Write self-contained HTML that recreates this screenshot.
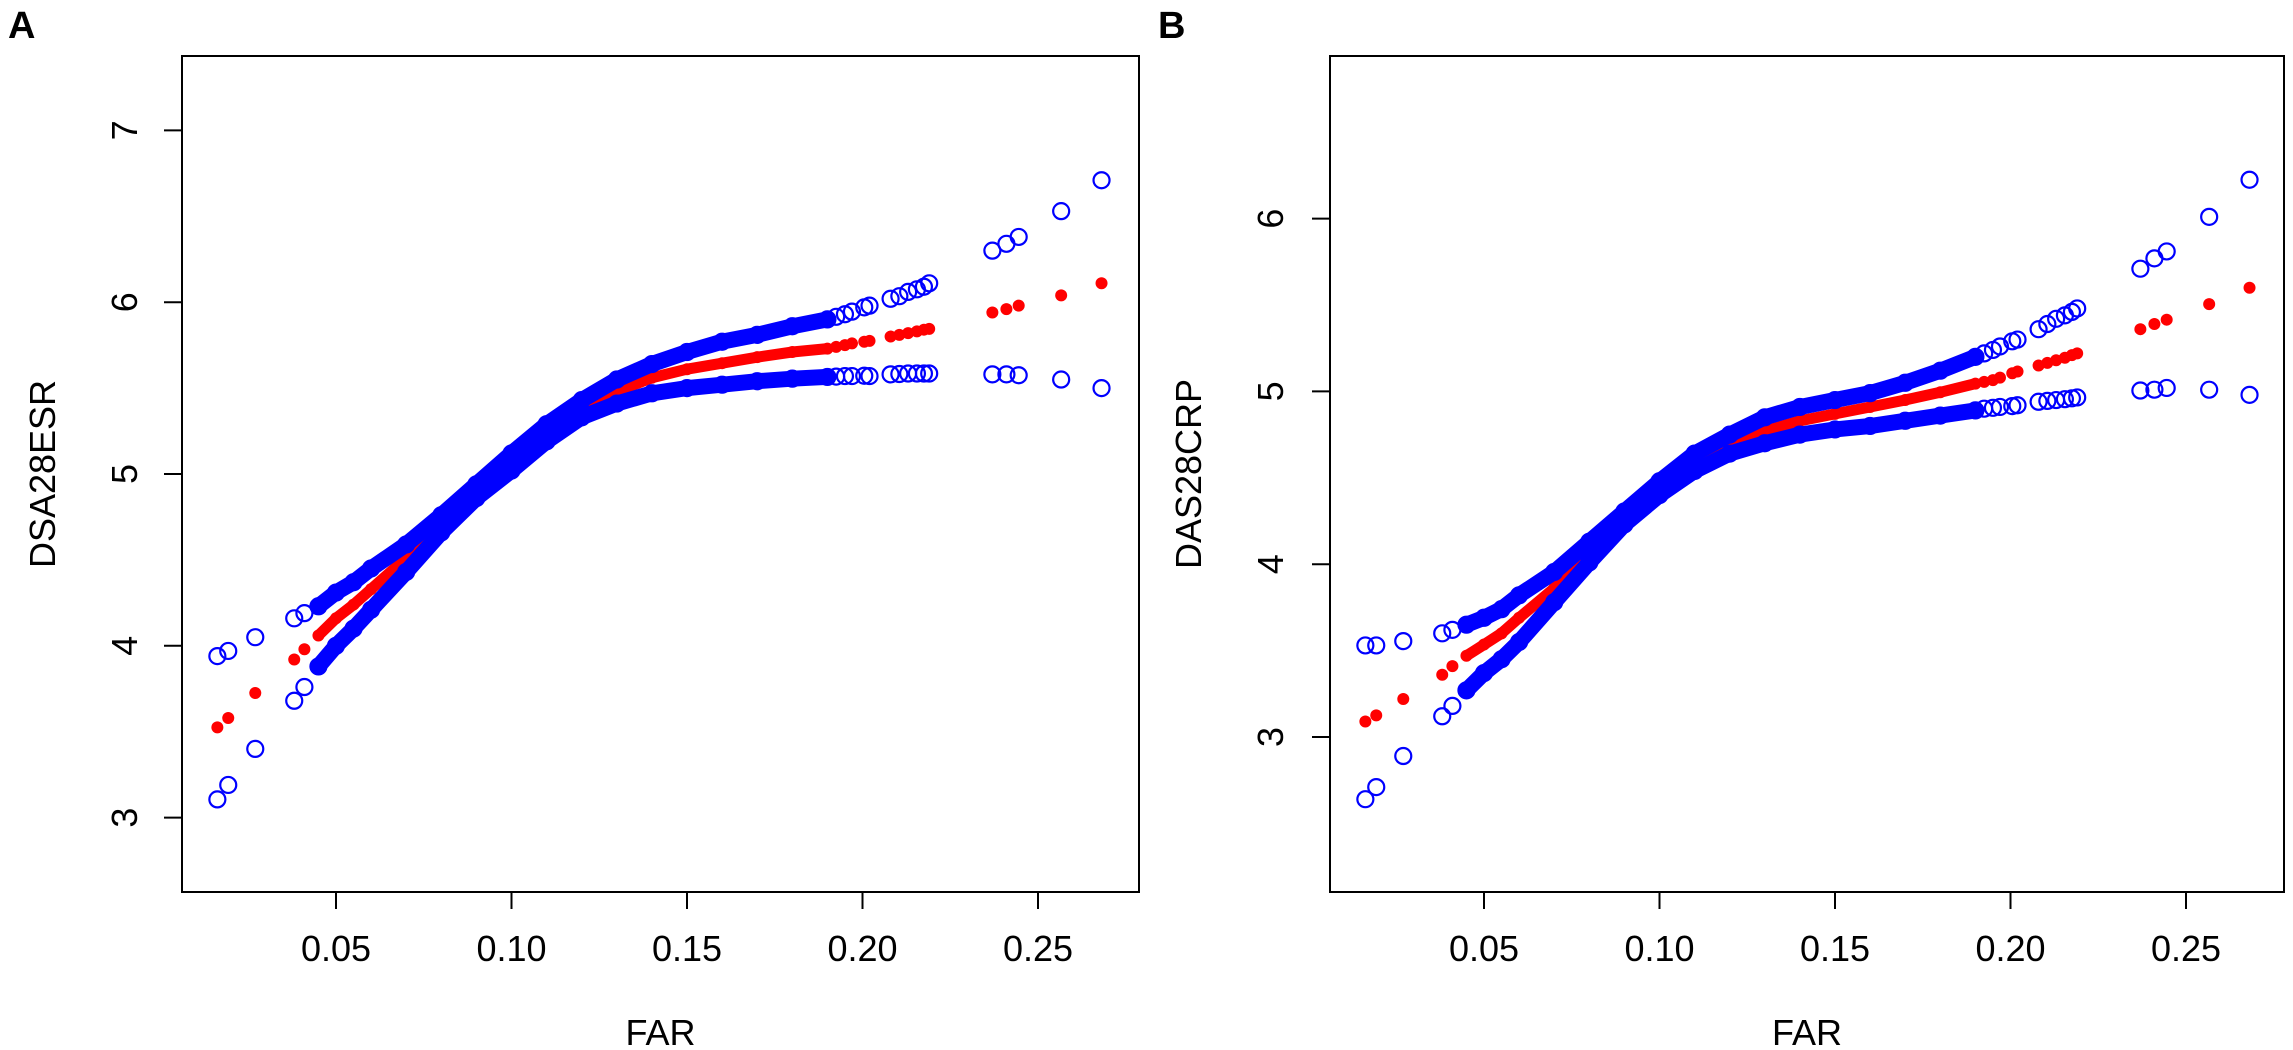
<!DOCTYPE html>
<html><head><meta charset="utf-8"><style>
html,body{margin:0;padding:0;background:#fff;}
svg{display:block;font-family:"Liberation Sans",Arial,sans-serif;}
</style></head><body>
<svg id="chart" width="2293" height="1050" viewBox="0 0 2293 1050"></svg>
<script>
const xVals = [0.0162,0.0193,0.027,0.0381,0.041,0.045,0.05,0.055,0.06,0.07,0.08,0.09,0.10,0.11,0.12,0.13,0.14,0.15,0.16,0.17,0.18,0.19,0.1925,0.195,0.197,0.2005,0.202,0.208,0.2105,0.213,0.2155,0.2175,0.219,0.237,0.241,0.2445,0.2566,0.2681];
const xTicks = [0.05,0.10,0.15,0.20,0.25];
const xTickLabels = ["0.05","0.10","0.15","0.20","0.25"];
const aFit = [3.525,3.58,3.725,3.92,3.98,4.06,4.16,4.24,4.33,4.51,4.71,4.90,5.07,5.24,5.38,5.48,5.56,5.61,5.645,5.68,5.71,5.73,5.74,5.75,5.76,5.77,5.775,5.80,5.81,5.82,5.83,5.84,5.845,5.94,5.96,5.98,6.04,6.11];
const aUpper = [3.94,3.97,4.05,4.16,4.19,4.23,4.31,4.37,4.45,4.59,4.76,4.94,5.12,5.29,5.43,5.55,5.64,5.71,5.77,5.81,5.86,5.90,5.915,5.93,5.945,5.97,5.98,6.02,6.035,6.06,6.075,6.09,6.11,6.30,6.34,6.38,6.53,6.71];
const aLower = [3.106,3.19,3.40,3.68,3.76,3.88,4.0,4.10,4.21,4.43,4.66,4.86,5.02,5.19,5.33,5.41,5.47,5.50,5.52,5.54,5.555,5.565,5.567,5.57,5.57,5.572,5.57,5.58,5.582,5.585,5.585,5.585,5.585,5.58,5.58,5.575,5.55,5.50];
const aYTicks = [3,4,5,6,7];
const bFit = [3.09,3.125,3.22,3.36,3.41,3.47,3.535,3.60,3.69,3.86,4.07,4.27,4.44,4.58,4.70,4.77,4.83,4.87,4.91,4.95,4.995,5.045,5.055,5.065,5.08,5.105,5.115,5.15,5.165,5.18,5.195,5.21,5.22,5.36,5.39,5.415,5.505,5.60];
const bUpper = [3.53,3.53,3.555,3.60,3.62,3.65,3.69,3.74,3.82,3.955,4.13,4.305,4.48,4.64,4.75,4.85,4.91,4.95,4.99,5.05,5.12,5.20,5.22,5.24,5.26,5.29,5.30,5.36,5.39,5.42,5.44,5.46,5.48,5.71,5.77,5.81,6.01,6.225];
const bLower = [2.64,2.71,2.89,3.12,3.18,3.27,3.37,3.45,3.55,3.78,4.01,4.23,4.40,4.54,4.64,4.70,4.75,4.78,4.80,4.83,4.86,4.89,4.90,4.905,4.91,4.915,4.92,4.94,4.945,4.95,4.955,4.96,4.965,5.005,5.01,5.02,5.01,4.98];
const bYTicks = [3,4,5,6];

const NS="http://www.w3.org/2000/svg";
const svg=document.getElementById('chart');
function mk(tag,attrs,parent){const e=document.createElementNS(NS,tag);for(const k in attrs)e.setAttribute(k,attrs[k]);(parent||svg).appendChild(e);return e;}

function panel(p){
  const g=mk('g',{});
  
  
  const xs=v=>p.x05+(v-0.05)*p.xPer/0.05;
  const ys=v=>p.y3-(v-3)*p.yPer;
  const inBand=i=>xVals[i]>=0.042&&xVals[i]<=0.191;
  const bandPath=arr=>{let d='';xVals.forEach((x,i)=>{if(inBand(i))d+=(d?'L':'M')+xs(x).toFixed(1)+','+ys(arr[i]).toFixed(1);});return d;};
  const fb=mk('path',{d:bandPath(p.fit),fill:'none',stroke:'#ff0000','stroke-width':11,'stroke-linecap':'round'},g);
  
  
  xVals.forEach((x,i)=>{
    const c=mk('circle',{cx:xs(x),cy:ys(p.fit[i]),r:6,fill:'#ff0000'},g);
    
    
  });
  [[p.upper,'upper-ci'],[p.lower,'lower-ci']].forEach(([arr,nm])=>{
    const b=mk('path',{d:bandPath(arr),fill:'none',stroke:'#0000ff','stroke-width':16,'stroke-linecap':'round'},g);
    
    
    xVals.forEach((x,i)=>{
      const c=mk('circle',{cx:xs(x),cy:ys(arr[i]),r:8,fill:'none',stroke:'#0000ff','stroke-width':2.2},g);
      
      
    });
  });
  const box=mk('rect',{x:p.left,y:56,width:p.right-p.left,height:836,fill:'none',stroke:'#000','stroke-width':2},g);
  
  
  xTicks.forEach((t,i)=>{
    const X=xs(t);
    const l=mk('line',{x1:X,x2:X,y1:892,y2:909,stroke:'#000','stroke-width':2},g);
    
    
    const tx=mk('text',{x:X,y:961,'text-anchor':'middle','font-size':36},g);
    tx.textContent=xTickLabels[i];
    
    
  });
  p.yTicks.forEach(t=>{
    const Y=ys(t);
    const l=mk('line',{x1:p.left-18,x2:p.left,y1:Y,y2:Y,stroke:'#000','stroke-width':2},g);
    
    
    const tx=mk('text',{x:0,y:0,'text-anchor':'middle','font-size':36,transform:`translate(${p.yLabX+12},${Y}) rotate(-90)`},g);
    tx.textContent=String(t);
    
    
  });
  const xt=mk('text',{x:(p.left+p.right)/2,y:1045,'text-anchor':'middle','font-size':36},g);
  xt.textContent='FAR';
  
  
  const yt=mk('text',{x:0,y:0,'text-anchor':'middle','font-size':36,transform:`translate(${p.yTitX+12},474) rotate(-90)`},g);
  yt.textContent=p.yTitle;
  
  
  const lt=mk('text',{x:p.letterX,y:38,'font-size':38,'font-weight':'bold'},g);
  lt.textContent=p.letter;
  
  
}
panel({name:'panel-a',letter:'A',letterX:8,left:182,right:1139,x05:336,xPer:175.5,y3:817.6,yPer:171.8,fit:aFit,upper:aUpper,lower:aLower,yTicks:aYTicks,yTitle:'DSA28ESR',yLabX:125,yTitX:43});
panel({name:'panel-b',letter:'B',letterX:1158,left:1330,right:2284,x05:1484,xPer:175.5,y3:737,yPer:172.8,fit:bFit,upper:bUpper,lower:bLower,yTicks:bYTicks,yTitle:'DAS28CRP',yLabX:1271,yTitX:1189});
</script>
</body></html>
